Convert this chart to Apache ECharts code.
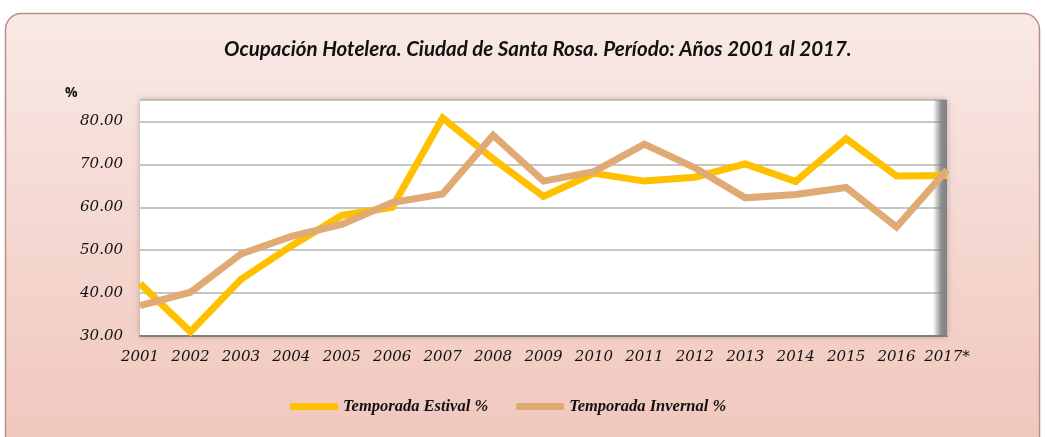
<!DOCTYPE html>
<html><head><meta charset="utf-8">
<script src="https://cdn.jsdelivr.net/npm/echarts@6/dist/echarts.min.js"></script>
<style>html,body{margin:0;padding:0;background:#fff}#c{width:1045px;height:437px}</style>
</head><body><div id="c"></div>
<script>
const years = ['2001','2002','2003','2004','2005','2006','2007','2008','2009','2010','2011','2012','2013','2014','2015','2016','2017*'];
const estival = [42.2, 31.0, 43.2, 51.0, 58.1, 60.0, 80.8, 71.3, 62.5, 67.9, 66.1, 67.0, 70.1, 66.0, 76.0, 67.3, 67.4];
const invernal = [37.1, 40.2, 49.1, 53.2, 56.0, 61.1, 63.1, 76.8, 66.1, 68.3, 74.7, 69.2, 62.2, 63.0, 64.6, 55.4, 68.7];
const yTicks = [30, 40, 50, 60, 70, 80];

const chart = echarts.init(document.getElementById('c'));
const serif = '"DejaVu Serif", "Liberation Serif", serif';
chart.setOption({
  animation: false,
  backgroundColor: '#fff',
  graphic: [
    { type: 'rect', z: -10, silent: true,
      shape: { x: 5.5, y: 13.5, width: 1034, height: 440, r: 16 },
      style: { fill: new echarts.graphic.LinearGradient(0, 0, 0, 1, [
        { offset: 0, color: '#F9E9E6' }, { offset: 1, color: '#F0C6BC' }]),
        stroke: '#B98E86', lineWidth: 1.5 } },
    { type: 'rect', z: 1, silent: true,
      shape: { x: 933, y: 100, width: 14, height: 236 },
      style: { fill: new echarts.graphic.LinearGradient(0, 0, 1, 0, [
        { offset: 0, color: 'rgba(128,128,128,0)' }, { offset: 0.6, color: 'rgba(128,128,128,0.9)' }, { offset: 1, color: '#808080' }]) } },
    { type: 'text', left: 65, top: 86,
      style: { text: '%', font: 'bold 14px "Open Sans", sans-serif', fill: '#111' } }
  ],
  title: {
    text: 'Ocupación Hotelera. Ciudad de Santa Rosa. Período: Años 2001 al 2017.',
    left: 219, top: 34,
    textStyle: { fontFamily: 'Lato, "Open Sans", sans-serif', fontStyle: 'italic', fontWeight: 'bold', fontSize: 20.5, color: '#111' }
  },
  legend: {
    bottom: 17, left: 285, itemGap: 28, itemWidth: 48, itemHeight: 7,
    icon: 'roundRect',
    textStyle: { fontFamily: '"Liberation Serif", serif', fontStyle: 'italic', fontWeight: 'bold', fontSize: 16.5, color: '#111' },
    data: ['Temporada Estival %', 'Temporada Invernal %']
  },
  grid: {
    left: 140, right: 98, top: 100, bottom: 101, show: true,
    backgroundColor: '#fff', borderWidth: 0,
    shadowColor: 'rgba(0,0,0,0.25)', shadowBlur: 6
  },
  xAxis: {
    type: 'category', data: years, boundaryGap: false,
    axisLine: { lineStyle: { color: '#7f7f7f', width: 2 } },
    axisTick: { show: false },
    axisLabel: { fontFamily: serif, fontStyle: 'italic', fontSize: 15, color: '#111', margin: 14, interval: 0 }
  },
  yAxis: {
    type: 'value', min: 30, max: 85, interval: 10,
    axisLine: { show: false }, axisTick: { show: false },
    splitLine: { lineStyle: { color: '#B3B3AE', width: 1.5 } },
    axisLabel: { fontFamily: serif, fontStyle: 'italic', fontSize: 15, color: '#111', margin: 17,
      formatter: v => yTicks.includes(v) ? v.toFixed(2) : '' }
  },
  series: [
    { name: 'Temporada Estival %', type: 'line', data: estival, symbol: 'none',
      lineStyle: { color: '#FFC000', width: 7, join: 'miter' }, itemStyle: { color: '#FFC000' }, z: 3 },
    { name: 'Temporada Invernal %', type: 'line', data: invernal, symbol: 'none',
      lineStyle: { color: '#E0AA75', width: 7, join: 'miter' }, itemStyle: { color: '#E0AA75' }, z: 4 }
  ]
});
</script></body></html>
